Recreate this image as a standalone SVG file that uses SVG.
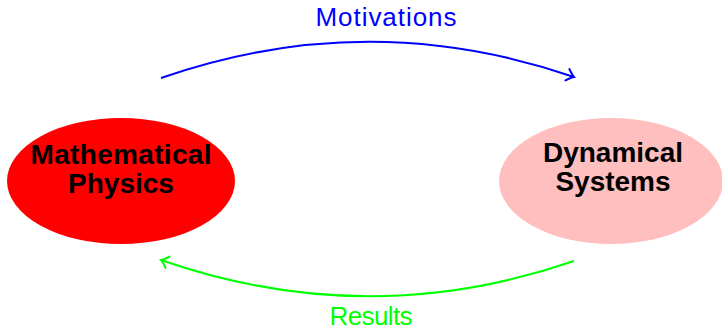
<svg xmlns="http://www.w3.org/2000/svg" width="722" height="332" viewBox="0 0 722 332">
<style>
.node-label{font-family:"Liberation Sans",Arial,sans-serif;font-weight:bold;font-size:28px;fill:#000;text-anchor:middle}
.edge-label{font-family:"Liberation Sans",Arial,sans-serif;font-size:26px;text-anchor:middle}
.edge{fill:none;stroke-width:2}
</style>
<defs>
<marker id="arrBlue" markerUnits="userSpaceOnUse" markerWidth="20" markerHeight="20" viewBox="-10 -10 20 20" refX="0" refY="0" orient="auto">
<path d="M-7,-6 Q-2,-1 0,0 Q-2,1 -7,6" fill="none" stroke="#0000ff" stroke-width="2" stroke-linecap="round"/>
</marker>
<marker id="arrGreen" markerUnits="userSpaceOnUse" markerWidth="20" markerHeight="20" viewBox="-10 -10 20 20" refX="0" refY="0" orient="auto">
<path d="M-7,-6 Q-2,-1 0,0 Q-2,1 -7,6" fill="none" stroke="#00ff00" stroke-width="2" stroke-linecap="round"/>
</marker>
</defs>
<g id="node-math">
<ellipse cx="121" cy="181" rx="114" ry="63" fill="#ff0000"/>
<text class="node-label" x="121" y="164" textLength="181">Mathematical</text>
<text class="node-label" x="121" y="193">Physics</text>
</g>
<g id="node-dyn">
<ellipse cx="611" cy="181" rx="112" ry="63" fill="#ffbfbf"/>
<text class="node-label" x="613" y="162">Dynamical</text>
<text class="node-label" x="613" y="191">Systems</text>
</g>
<g id="connectors">
<path class="edge" d="M161,78 Q368,6 574,77" stroke="#0000ff" marker-end="url(#arrBlue)"/>
<text class="edge-label" x="386" y="26" fill="#0000ff" textLength="141">Motivations</text>
<path class="edge" d="M574,261 Q368,332 161,260" stroke="#00ff00" marker-end="url(#arrGreen)"/>
<text class="edge-label" x="371" y="325" fill="#00ff00" font-size="25" textLength="83">Results</text>
</g>
</svg>
